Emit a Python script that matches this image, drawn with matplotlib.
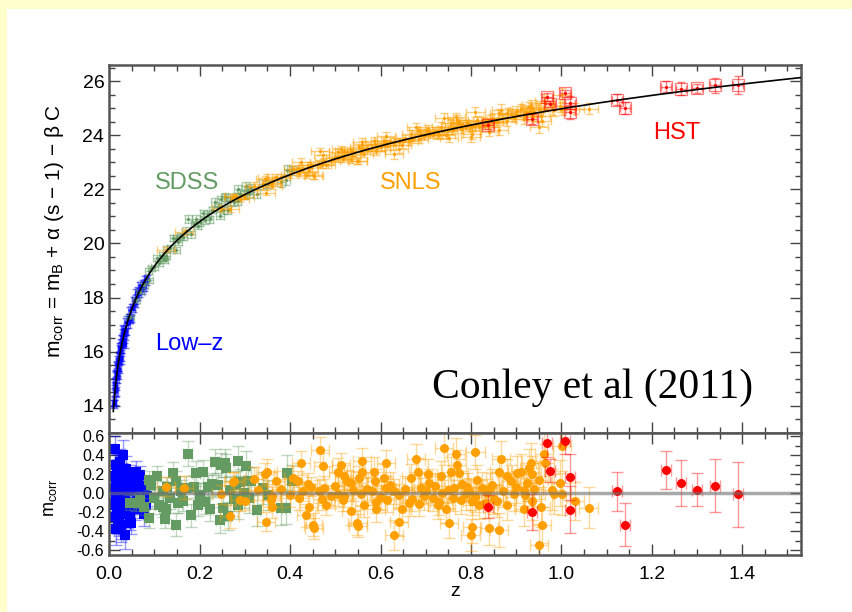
import numpy as np
import matplotlib
matplotlib.use("Agg")
import matplotlib.pyplot as plt
from matplotlib.patches import Rectangle
from matplotlib.ticker import MultipleLocator

plt.rcParams['font.family'] = ['Liberation Sans', 'DejaVu Sans']
plt.rcParams['mathtext.fontset'] = 'custom'
plt.rcParams['mathtext.rm'] = 'Liberation Sans'
plt.rcParams['mathtext.it'] = 'Liberation Sans:italic'

# Hubble residuals (mag) per sample, with their errors
lowz_z = [0.010, 0.011, 0.012, 0.012, 0.013, 0.014, 0.015, 0.015, 0.016, 0.017,
          0.018, 0.019, 0.020, 0.021, 0.022, 0.023, 0.024, 0.025, 0.026, 0.027,
          0.028, 0.029, 0.030, 0.031, 0.032, 0.033, 0.034, 0.035, 0.036, 0.038,
          0.040, 0.041, 0.043, 0.045, 0.047, 0.049, 0.050, 0.052, 0.054, 0.056,
          0.058, 0.060, 0.062, 0.064, 0.066, 0.068, 0.070, 0.072, 0.074, 0.076,
          0.078, 0.080, 0.082, 0.084, 0.013, 0.017, 0.021, 0.025, 0.029, 0.033,
          0.016, 0.019, 0.023, 0.027, 0.031]
lowz_res = [0.05, -0.12, 0.47, -0.25, 0.18, -0.05, 0.30, -0.38, 0.10, -0.20,
            0.22, -0.02, 0.15, -0.30, 0.08, 0.25, -0.15, 0.02, -0.33, 0.12,
            0.20, -0.08, 0.40, -0.18, 0.05, 0.16, -0.44, -0.06, 0.26, -0.22,
            0.10, -0.12, 0.03, 0.18, -0.26, -0.31, 0.07, -0.10, 0.14, 0.02,
            -0.16, 0.23, -0.04, 0.12, -0.09, 0.19, 0.02, -0.14, 0.08, -0.05,
            -0.22, 0.05, -0.12, -0.03, -0.10, 0.28, 0.00, -0.35, 0.14, -0.20,
            0.06, -0.28, 0.33, -0.02, 0.18]
lowz_err = [0.14, 0.12, 0.13, 0.15, 0.12, 0.14, 0.13, 0.16, 0.12, 0.13,
            0.14, 0.12, 0.13, 0.15, 0.12, 0.13, 0.14, 0.12, 0.15, 0.13,
            0.12, 0.14, 0.16, 0.13, 0.12, 0.14, 0.15, 0.12, 0.13, 0.14,
            0.12, 0.13, 0.11, 0.12, 0.13, 0.12, 0.11, 0.12, 0.13, 0.11,
            0.12, 0.11, 0.10, 0.12, 0.11, 0.10, 0.11, 0.12, 0.10, 0.11,
            0.12, 0.10, 0.11, 0.10, 0.13, 0.14, 0.12, 0.16, 0.13, 0.14,
            0.12, 0.15, 0.14, 0.12, 0.13]

sdss_z = [0.046, 0.060, 0.068, 0.078, 0.087, 0.089, 0.093, 0.100, 0.105, 0.110,
          0.118, 0.120, 0.123, 0.126, 0.127, 0.135, 0.142, 0.148, 0.148, 0.153,
          0.158, 0.163, 0.170, 0.175, 0.181, 0.188, 0.192, 0.196, 0.200, 0.208,
          0.212, 0.218, 0.222, 0.228, 0.234, 0.240, 0.245, 0.247, 0.252, 0.255,
          0.258, 0.262, 0.268, 0.275, 0.280, 0.284, 0.284, 0.290, 0.297, 0.302,
          0.306, 0.310, 0.313, 0.326, 0.339, 0.352, 0.380, 0.391, 0.394, 0.405]
sdss_res = [-0.10, -0.10, -0.07, -0.14, 0.14, -0.26, 0.09, -0.05, 0.18, -0.12,
            0.03, -0.14, -0.27, -0.16, 0.07, -0.05, 0.21, 0.13, -0.33, -0.10,
            0.02, -0.08, 0.06, 0.42, -0.23, 0.07, 0.21, -0.12, -0.02, 0.23,
            -0.09, 0.07, -0.16, 0.10, 0.33, 0.09, -0.28, 0.30, -0.15, 0.32,
            0.27, -0.24, 0.04, -0.06, 0.09, 0.34, -0.12, 0.12, 0.00, 0.29,
            0.13, -0.05, 0.13, -0.18, 0.06, -0.02, -0.15, -0.15, 0.22, 0.13]
sdss_err = [0.08, 0.09, 0.08, 0.09, 0.10, 0.10, 0.09, 0.10, 0.11, 0.10,
            0.10, 0.11, 0.10, 0.11, 0.10, 0.11, 0.12, 0.11, 0.12, 0.11,
            0.12, 0.11, 0.12, 0.13, 0.12, 0.12, 0.13, 0.12, 0.13, 0.12,
            0.13, 0.12, 0.13, 0.12, 0.14, 0.13, 0.14, 0.13, 0.14, 0.15,
            0.14, 0.15, 0.14, 0.13, 0.15, 0.16, 0.15, 0.14, 0.15, 0.16,
            0.15, 0.16, 0.15, 0.16, 0.17, 0.16, 0.18, 0.17, 0.18, 0.17]

snls_z = [0.126, 0.166, 0.247, 0.266, 0.274, 0.277, 0.289, 0.300, 0.320, 0.330,
          0.345, 0.347, 0.350, 0.358, 0.360, 0.361, 0.369, 0.380, 0.400, 0.406,
          0.417, 0.420, 0.424, 0.428, 0.435, 0.440, 0.442, 0.446, 0.450, 0.452,
          0.464, 0.467, 0.470, 0.472, 0.475, 0.479, 0.490, 0.500, 0.505, 0.505,
          0.512, 0.516, 0.520, 0.520, 0.525, 0.534, 0.534, 0.540, 0.549, 0.551,
          0.553, 0.556, 0.560, 0.560, 0.564, 0.570, 0.582, 0.586, 0.588, 0.590,
          0.590, 0.600, 0.608, 0.612, 0.612, 0.615, 0.620, 0.630, 0.630, 0.640,
          0.641, 0.648, 0.655, 0.663, 0.667, 0.670, 0.678, 0.682, 0.685, 0.689,
          0.696, 0.700, 0.704, 0.707, 0.715, 0.720, 0.726, 0.730, 0.733, 0.737,
          0.740, 0.744, 0.750, 0.751, 0.755, 0.760, 0.762, 0.766, 0.770, 0.773,
          0.777, 0.780, 0.788, 0.792, 0.795, 0.799, 0.803, 0.803, 0.810, 0.810,
          0.814, 0.818, 0.825, 0.830, 0.836, 0.840, 0.843, 0.847, 0.850, 0.858,
          0.862, 0.862, 0.866, 0.870, 0.880, 0.880, 0.888, 0.895, 0.900, 0.902,
          0.910, 0.917, 0.917, 0.920, 0.924, 0.928, 0.932, 0.935, 0.935, 0.940,
          0.950, 0.950, 0.954, 0.958, 0.961, 0.963, 0.980, 0.983, 0.998, 1.002,
          1.002, 1.031, 1.060]
snls_res = [0.07, 0.06, -0.01, -0.24, 0.12, 0.13, -0.07, -0.08, 0.15, 0.04,
            0.20, -0.30, 0.23, -0.07, -0.03, -0.14, 0.13, 0.05, -0.02, 0.16,
            0.13, -0.05, 0.32, 0.02, -0.23, 0.10, -0.14, 0.07, -0.33, -0.37,
            0.02, 0.46, -0.06, 0.29, 0.06, -0.12, -0.03, 0.08, 0.23, -0.01,
            0.30, -0.07, 0.18, -0.03, 0.13, 0.11, -0.19, 0.04, -0.31, -0.34,
            0.16, -0.01, 0.23, 0.34, -0.12, 0.05, 0.02, 0.23, 0.13, -0.16,
            -0.09, -0.04, 0.16, 0.32, 0.06, -0.07, 0.09, -0.44, 0.02, -0.02,
            -0.30, -0.16, 0.05, -0.10, 0.16, -0.06, 0.36, 0.23, -0.11, 0.06,
            -0.03, 0.03, 0.20, 0.11, -0.05, 0.08, -0.12, -0.09, 0.18, 0.00,
            0.48, -0.16, 0.04, -0.31, 0.23, -0.05, 0.06, 0.41, 0.30, 0.21,
            -0.07, 0.10, -0.01, 0.07, 0.02, -0.44, -0.08, -0.35, 0.44, -0.04,
            0.14, -0.12, 0.06, -0.10, 0.00, -0.37, 0.06, 0.09, -0.06, -0.08,
            0.23, -0.39, 0.36, 0.03, 0.18, -0.12, 0.13, -0.01, 0.07, 0.21,
            0.23, -0.16, 0.04, -0.02, 0.11, 0.27, 0.32, 0.20, -0.08, 0.05,
            -0.54, 0.14, -0.14, -0.33, 0.41, 0.32, 0.04, -0.01, 0.11, -0.01,
            0.50, -0.08, -0.15]
snls_err = [0.10, 0.12, 0.10, 0.12, 0.11, 0.10, 0.12, 0.10, 0.13, 0.11,
            0.12, 0.10, 0.13, 0.11, 0.10, 0.12, 0.11, 0.10, 0.12, 0.13,
            0.11, 0.12, 0.13, 0.10, 0.12, 0.11, 0.12, 0.10, 0.12, 0.11,
            0.12, 0.13, 0.11, 0.14, 0.12, 0.11, 0.12, 0.13, 0.14, 0.12,
            0.13, 0.12, 0.14, 0.11, 0.12, 0.13, 0.14, 0.12, 0.13, 0.12,
            0.13, 0.12, 0.15, 0.14, 0.13, 0.12, 0.14, 0.15, 0.13, 0.14,
            0.12, 0.13, 0.15, 0.14, 0.12, 0.13, 0.14, 0.16, 0.13, 0.12,
            0.15, 0.14, 0.13, 0.14, 0.15, 0.13, 0.16, 0.14, 0.13, 0.15,
            0.14, 0.13, 0.16, 0.15, 0.14, 0.13, 0.15, 0.14, 0.16, 0.14,
            0.18, 0.15, 0.14, 0.16, 0.15, 0.14, 0.15, 0.17, 0.16, 0.15,
            0.15, 0.14, 0.16, 0.15, 0.14, 0.17, 0.15, 0.17, 0.18, 0.16,
            0.16, 0.15, 0.17, 0.16, 0.15, 0.17, 0.16, 0.17, 0.16, 0.17,
            0.16, 0.18, 0.19, 0.17, 0.18, 0.16, 0.17, 0.18, 0.17, 0.18,
            0.19, 0.18, 0.17, 0.18, 0.19, 0.20, 0.21, 0.19, 0.20, 0.18,
            0.22, 0.20, 0.21, 0.19, 0.23, 0.20, 0.22, 0.21, 0.24, 0.22,
            0.26, 0.20, 0.22]

hst_z = [0.838, 0.935, 0.969, 0.974, 1.009, 1.020, 1.020, 1.122, 1.141, 1.231,
         1.265, 1.300, 1.339, 1.390]
hst_res = [-0.14, -0.20, 0.53, 0.24, 0.55, 0.17, -0.17, 0.02, -0.33, 0.25,
           0.11, 0.04, 0.08, -0.01]
hst_err = [0.12, 0.19, 0.15, 0.12, 0.13, 0.24, 0.25, 0.21, 0.23, 0.20,
           0.24, 0.17, 0.28, 0.34]

# best-fit flat LCDM used for the curve and the residuals
omega_m = 0.27
script_m = 24.0

C_BLUE = '#0000ff'
C_GREEN = '#639b63'
C_ORANGE = '#ffa000'
C_RED = '#ff0000'


def model_mag(z):
    zg = np.linspace(0, 1.6, 3201)
    inv_e = 1.0 / np.sqrt(omega_m * (1 + zg) ** 3 + 1 - omega_m)
    dc = np.concatenate([[0], np.cumsum(0.5 * (inv_e[1:] + inv_e[:-1]) * np.diff(zg))])
    dl = (1 + zg) * dc
    return script_m + 5 * np.log10(np.interp(z, zg, dl))


fig = plt.figure(figsize=(8.52, 6.12), dpi=100, facecolor='#ffffcc')
fig.patches.append(Rectangle((7 / 852, 0), 1, 1 - 9 / 612, transform=fig.transFigure,
                             facecolor='white', edgecolor='none', zorder=-10))

ax1 = fig.add_axes([0.1282, 0.2930, 0.8120, 0.6008])
ax2 = fig.add_axes([0.1282, 0.0931, 0.8120, 0.1999])

samples = [
    (lowz_z, lowz_res, lowz_err, C_BLUE, 's', 0.004),
    (sdss_z, sdss_res, sdss_err, C_GREEN, 's', 0.008),
    (snls_z, snls_res, snls_err, C_ORANGE, 'o', 0.02),
    (hst_z, hst_res, hst_err, C_RED, 'o', 0.011),
]

# top: corrected magnitudes
for zz, rr, ee, col, mk, xe in samples:
    zz = np.array(zz)
    mm = model_mag(zz) + np.array(rr)
    ax1.errorbar(zz, mm, yerr=ee, xerr=xe, fmt='none', ecolor=col,
                 alpha=0.5, elinewidth=1.0, capsize=3, capthick=1.0)
    ax1.plot(zz, mm, '.', color=col, ms=4.5, mew=0)
    if col == C_RED:
        ax1.plot(zz, mm, 's', mfc='none', mec=col, ms=9, mew=0.9, alpha=0.5)

zc = np.linspace(0.009, 1.53, 500)
ax1.plot(zc, model_mag(zc), color='black', lw=1.2, zorder=5)

# bottom: residuals
for zz, rr, ee, col, mk, xe in samples:
    ax2.errorbar(zz, rr, yerr=ee, xerr=xe, fmt='none', ecolor=col,
                 alpha=0.4, elinewidth=1.0, capsize=4, capthick=1.0)
    ax2.plot(zz, rr, mk, color=col, ms=6.5, mew=0)
ax2.axhline(0, color='#707070', lw=2.5, alpha=0.6, zorder=6)

ax1.set_xlim(0, 1.53)
ax2.set_xlim(0, 1.53)
ax1.set_ylim(13.0, 26.6)
ax2.set_ylim(-0.65, 0.64)

for ax in (ax1, ax2):
    ax.xaxis.set_major_locator(MultipleLocator(0.2))
    ax.xaxis.set_minor_locator(MultipleLocator(0.05))
    ax.tick_params(which='both', direction='in', top=True, right=True,
                   color='#444444', width=1.0)
    ax.tick_params(which='major', length=8)
    ax.tick_params(which='minor', length=4)
    for sp in ax.spines.values():
        sp.set_color('#555555')
        sp.set_linewidth(1.8)

ax1.yaxis.set_major_locator(MultipleLocator(2))
ax1.yaxis.set_minor_locator(MultipleLocator(0.5))
ax1.tick_params(axis='x', labelbottom=False)
ax1.tick_params(axis='y', labelsize=14)

ax2.set_yticks([-0.6, -0.4, -0.2, 0.0, 0.2, 0.4, 0.6])
ax2.yaxis.set_minor_locator(MultipleLocator(0.1))
ax2.yaxis.set_major_formatter(plt.FormatStrFormatter('%.1f'))
ax2.xaxis.set_major_formatter(plt.FormatStrFormatter('%.1f'))
ax2.tick_params(axis='y', labelsize=11.5)
ax2.tick_params(axis='x', labelsize=14, pad=8)

ax1.set_ylabel(r'm$_{\rm corr}$ = m$_{\rm B}$ + α (s − 1) − β C', fontsize=15)
ax1.yaxis.set_label_coords(-0.062, 0.548)
ax2.set_ylabel(r'm$_{\rm corr}$', fontsize=13)
ax2.yaxis.set_label_coords(-0.072, 0.47)
ax2.set_xlabel('z', fontsize=14, labelpad=0)

ax1.text(0.101, 22.03, 'SDSS', color=C_GREEN, fontsize=17)
ax1.text(0.598, 22.0, 'SNLS', color=C_ORANGE, fontsize=17)
ax1.text(1.203, 23.88, 'HST', color=C_RED, fontsize=17)
ax1.text(0.101, 16.04, 'Low\u2013z', color=C_BLUE, fontsize=17)
ax1.text(0.714, 14.3, 'Conley et al (2011)', family='Liberation Serif', fontsize=30,
         color='black')

fig.savefig('out.png', dpi=100, facecolor=fig.get_facecolor())
